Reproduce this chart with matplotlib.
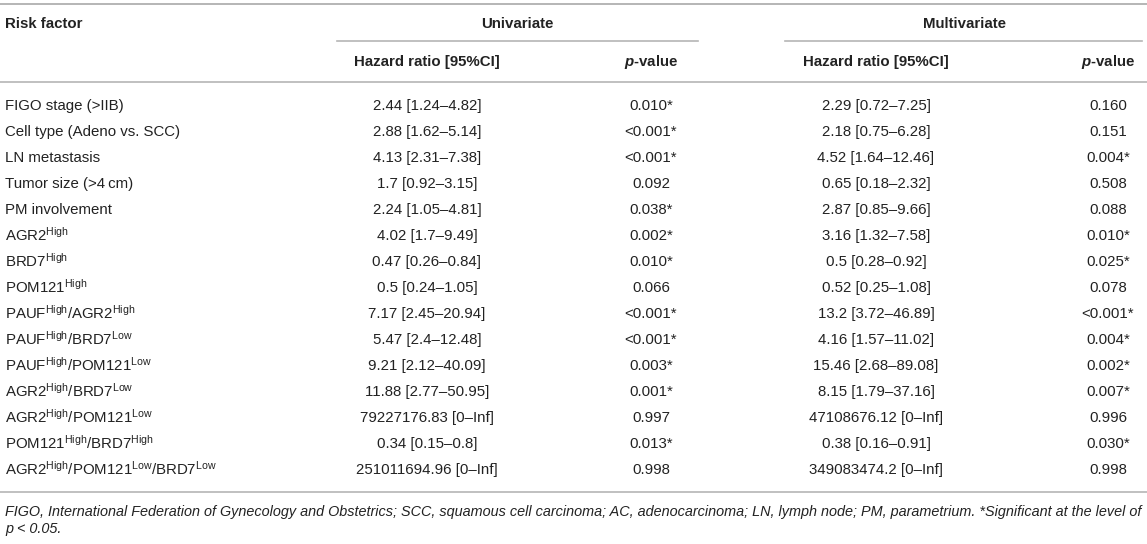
import matplotlib
matplotlib.use("Agg")
import matplotlib.pyplot as plt

plt.rcParams["font.family"] = ["Liberation Sans", "DejaVu Sans"]
plt.rcParams["mathtext.fontset"] = "custom"
plt.rcParams["mathtext.rm"] = "Liberation Sans"
plt.rcParams["mathtext.it"] = "Liberation Sans:italic"
plt.rcParams["mathtext.bf"] = "Liberation Sans:bold"
plt.rcParams["mathtext.bfit"] = "Liberation Sans:italic:bold"

HI = r"$^{\mathrm{High}}$"
LO = r"$^{\mathrm{Low}}$"

# table content
factors = [
    "FIGO stage (>IIB)",
    "Cell type (Adeno vs. SCC)",
    "LN metastasis",
    "Tumor size (>4\u2009cm)",
    "PM involvement",
    "AGR2" + HI,
    "BRD7" + HI,
    "POM121" + HI,
    "PAUF" + HI + "/AGR2" + HI,
    "PAUF" + HI + "/BRD7" + LO,
    "PAUF" + HI + "/POM121" + LO,
    "AGR2" + HI + "/BRD7" + LO,
    "AGR2" + HI + "/POM121" + LO,
    "POM121" + HI + "/BRD7" + HI,
    "AGR2" + HI + "/POM121" + LO + "/BRD7" + LO,
]
uni_hr = [
    "2.44 [1.24–4.82]", "2.88 [1.62–5.14]", "4.13 [2.31–7.38]", "1.7 [0.92–3.15]",
    "2.24 [1.05–4.81]", "4.02 [1.7–9.49]", "0.47 [0.26–0.84]", "0.5 [0.24–1.05]",
    "7.17 [2.45–20.94]", "5.47 [2.4–12.48]", "9.21 [2.12–40.09]", "11.88 [2.77–50.95]",
    "79227176.83 [0–Inf]", "0.34 [0.15–0.8]", "251011694.96 [0–Inf]",
]
uni_p = [
    "0.010*", "<0.001*", "<0.001*", "0.092", "0.038*", "0.002*", "0.010*", "0.066",
    "<0.001*", "<0.001*", "0.003*", "0.001*", "0.997", "0.013*", "0.998",
]
multi_hr = [
    "2.29 [0.72–7.25]", "2.18 [0.75–6.28]", "4.52 [1.64–12.46]", "0.65 [0.18–2.32]",
    "2.87 [0.85–9.66]", "3.16 [1.32–7.58]", "0.5 [0.28–0.92]", "0.52 [0.25–1.08]",
    "13.2 [3.72–46.89]", "4.16 [1.57–11.02]", "15.46 [2.68–89.08]", "8.15 [1.79–37.16]",
    "47108676.12 [0–Inf]", "0.38 [0.16–0.91]", "349083474.2 [0–Inf]",
]
multi_p = [
    "0.160", "0.151", "0.004*", "0.508", "0.088", "0.010*", "0.025*", "0.078",
    "<0.001*", "0.004*", "0.002*", "0.007*", "0.996", "0.030*", "0.998",
]
footnote = [
    "FIGO, International Federation of Gynecology and Obstetrics; SCC, squamous cell carcinoma; "
    "AC, adenocarcinoma; LN, lymph node; PM, parametrium. *Significant at the level of",
    "p < 0.05.",
]

W, H = 1147, 544
fig = plt.figure(figsize=(W / 100, H / 100), dpi=100)
ax = fig.add_axes([0, 0, 1, 1])
ax.set_xlim(0, W)
ax.set_ylim(H, 0)
ax.axis("off")

FS = 10.8
TXT = "#222222"
LINE = "#b5b5b5"
BASE = 5.3  # baseline offset below the row centre, in pixels

# column layout
x_left = 5
x_uni_hr, x_uni_p = 427, 651
x_mul_hr, x_mul_p = 876, 1108


def cell(x, y, s, ha="left", **kw):
    ax.text(x, y + BASE, s, fontsize=kw.pop("fontsize", FS), color=TXT,
            va="baseline", ha=ha, **kw)


# rules
ax.plot([0, W], [4, 4], color=LINE, lw=1.4)
ax.plot([337, 698], [41, 41], color=LINE, lw=1.2)
ax.plot([785, 1142], [41, 41], color=LINE, lw=1.2)
ax.plot([0, W], [82, 82], color=LINE, lw=1.2)
ax.plot([0, W], [492, 492], color=LINE, lw=1.2)

# header
cell(x_left, 23, "Risk factor", fontweight="bold")
cell(517, 23, "Univariate", ha="center", fontweight="bold")
cell(965, 23, "Multivariate", ha="center", fontweight="bold")
for xc, lab in [(x_uni_hr, "Hazard ratio [95%CI]"), (x_uni_p, r"$\mathbfit{p}$-value"),
                (x_mul_hr, "Hazard ratio [95%CI]"), (x_mul_p, r"$\mathbfit{p}$-value")]:
    cell(xc, 61, lab, ha="center", fontweight="bold")

# body rows
y0, dy = 105, 26
for i in range(len(factors)):
    y = y0 + i * dy
    cell(x_left, y, factors[i])
    cell(x_uni_hr, y, uni_hr[i], ha="center")
    cell(x_uni_p, y, uni_p[i], ha="center")
    cell(x_mul_hr, y, multi_hr[i], ha="center")
    cell(x_mul_p, y, multi_p[i], ha="center")

# footnote
cell(x_left, 511, footnote[0], fontsize=10.4, style="italic")
cell(x_left, 528, footnote[1], fontsize=10.4, style="italic")

fig.savefig("out.png", dpi=100)
